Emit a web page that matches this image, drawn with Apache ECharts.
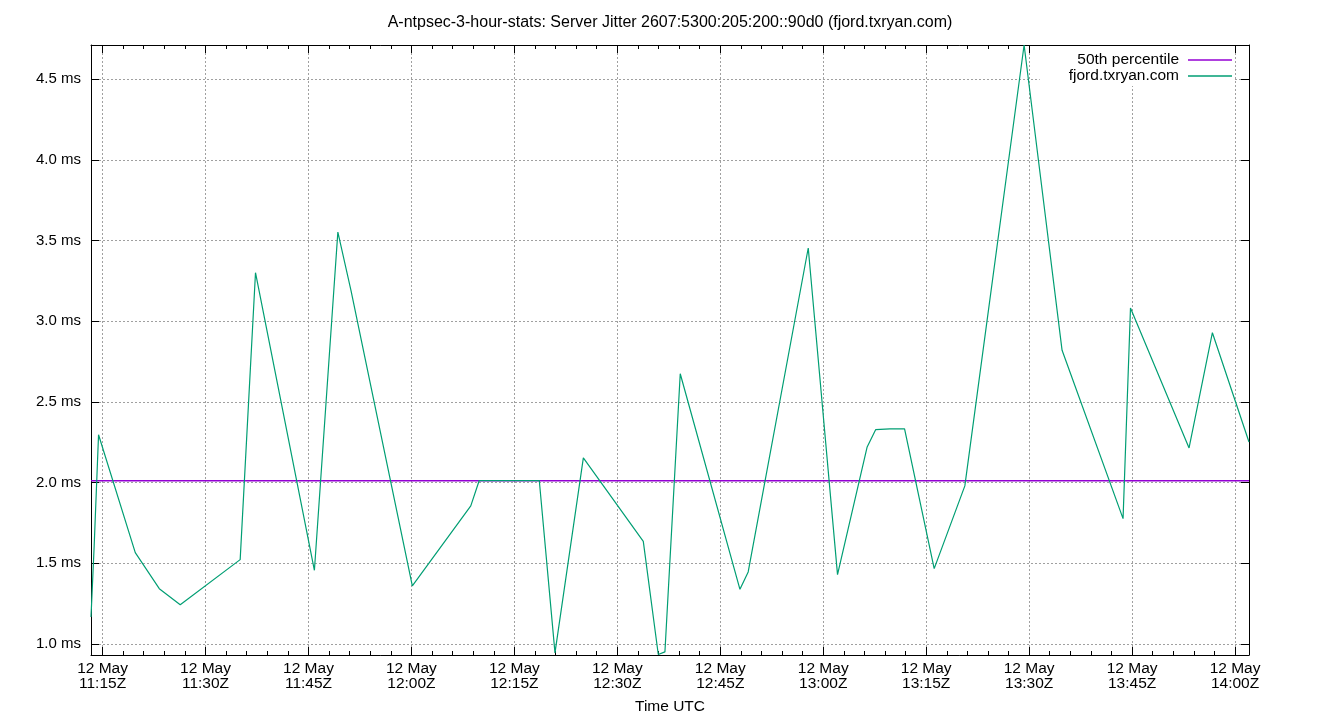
<!DOCTYPE html>
<html>
<head>
<meta charset="utf-8">
<script src="https://cdn.jsdelivr.net/npm/echarts@6/dist/echarts.min.js"></script>
<style>
  html, body { margin: 0; padding: 0; background: #fff; }
  #chart { width: 1340px; height: 720px; }
</style>
</head>
<body>
<div id="chart"></div>
<script>
// sample times (UTC, 12 May) and jitter in ms
var times = ['11:13:19', '11:13:47', '11:14:25', '11:19:46', '11:23:16', '11:26:19', '11:35:03',
    '11:37:17', '11:45:52', '11:49:17', '11:51:12', '12:00:08', '12:08:39', '12:09:52',
    '12:18:38', '12:20:55', '12:25:03', '12:33:47', '12:35:58', '12:36:56', '12:39:10',
    '12:47:52', '12:49:04', '12:57:49', '13:02:05', '13:06:24', '13:07:38', '13:09:43',
    '13:11:51', '13:16:10', '13:20:38', '13:29:16', '13:34:48', '13:43:41', '13:44:46',
    '13:53:18', '13:56:42', '14:02:02'];
var jitter = [1.168, 1.612, 2.297, 1.566, 1.343, 1.244, 1.523,
    3.301, 1.457, 3.553, 3.19, 1.360, 1.856, 2.012,
    2.012, 0.945, 2.153, 1.636, 0.935, 0.951, 2.675,
    1.339, 1.447, 3.454, 1.430, 2.221, 2.328, 2.333,
    2.333, 1.467, 1.980, 4.712, 2.820, 1.777, 3.082,
    2.215, 2.929, 2.252];
var median = 2.012;
var dayLabel = '12 May';

var FONT = 'Liberation Sans';

// "HH:MM:SS" -> minutes of the day
function toMin(s) {
    var p = s.split(':');
    return +p[0] * 60 + +p[1] + (+p[2] || 0) / 60;
}
function pad(n) { return (n < 10 ? '0' : '') + n; }

var xs = times.map(toMin);
var xMin = xs[0], xMax = xs[xs.length - 1];
var yMin = Math.min.apply(null, jitter), yMax = Math.max.apply(null, jitter);

var jitterData = [];
for (var i = 0; i < xs.length; i++) {
    jitterData.push([xs[i], jitter[i]]);
}
var medianData = [[xMin, median], [xMax, median]];

var chart = echarts.init(document.getElementById('chart'));

var black = '#000';
var gridLine = { show: true, lineStyle: { color: '#a0a0a0', type: [2, 2], width: 1 } };

function xAxisDef(pos, step, tickLen, withLabels) {
    return {
        type: 'value',
        gridIndex: 0,
        position: pos,
        min: xMin,
        max: xMax,
        minInterval: step,
        maxInterval: step,
        axisLine: { show: step === 15, lineStyle: { color: black, width: 1 } },
        axisTick: { show: true, inside: true, length: tickLen, lineStyle: { color: black } },
        splitLine: withLabels ? gridLine : { show: false },
        axisLabel: withLabels ? {
            show: true,
            showMinLabel: false,
            showMaxLabel: false,
            margin: 6,
            color: '#000',
            fontFamily: FONT,
            fontSize: 15.5,
            lineHeight: 15,
            formatter: function (v) {
                var m = Math.round(v);
                return dayLabel + '\n' + pad(Math.floor(m / 60)) + ':' + pad(m % 60) + 'Z';
            }
        } : { show: false },
        name: withLabels ? 'Time UTC' : '',
        nameLocation: 'middle',
        nameGap: 44,
        nameTextStyle: { color: '#000', fontFamily: FONT, fontSize: 15.5 }
    };
}

function yAxisDef(pos, withLabels) {
    return {
        type: 'value',
        gridIndex: 0,
        position: pos,
        min: yMin - 0.003,
        max: yMax,
        minInterval: 0.5,
        maxInterval: 0.5,
        axisLine: { show: true, lineStyle: { color: black, width: 1 } },
        axisTick: { show: true, inside: true, length: 8, lineStyle: { color: black } },
        splitLine: withLabels ? gridLine : { show: false },
        axisLabel: withLabels ? {
            show: true,
            showMinLabel: false,
            showMaxLabel: false,
            margin: 10,
            color: '#000',
            fontFamily: FONT,
            fontSize: 15,
            formatter: function (v) { return v.toFixed(1) + ' ms'; }
        } : { show: false }
    };
}

var option = {
    animation: false,
    backgroundColor: '#fff',
    title: {
        text: 'A-ntpsec-3-hour-stats: Server Jitter 2607:5300:205:200::90d0 (fjord.txryan.com)',
        left: 'center',
        top: 10,
        textStyle: { color: '#000', fontFamily: FONT, fontSize: 16, fontWeight: 'normal' }
    },
    legend: {
        orient: 'vertical',
        right: 107,
        top: 46,
        align: 'right',
        padding: [6, 1, 2, 29],
        backgroundColor: '#fff',
        itemGap: 0,
        itemWidth: 44,
        itemHeight: 1.5,
        icon: 'rect',
        textStyle: { color: '#000', fontFamily: FONT, fontSize: 15.5, lineHeight: 15, padding: [0, 4, 0, 0] },
        data: ['50th percentile', 'fjord.txryan.com']
    },
    grid: { left: 91, right: 91, top: 45, bottom: 63, containLabel: false },
    xAxis: [
        xAxisDef('bottom', 15, 8, true),
        xAxisDef('bottom', 3, 4, false),
        xAxisDef('top', 15, 8, false),
        xAxisDef('top', 3, 4, false)
    ],
    yAxis: [
        yAxisDef('left', true),
        yAxisDef('right', false)
    ],
    series: [
        {
            name: '50th percentile',
            type: 'line',
            data: medianData,
            showSymbol: false,
            symbol: 'none',
            color: '#9400d3',
            lineStyle: { width: 1.4, color: '#9400d3' }
        },
        {
            name: 'fjord.txryan.com',
            type: 'line',
            data: jitterData,
            showSymbol: false,
            symbol: 'none',
            color: '#009e73',
            lineStyle: { width: 1.2, color: '#009e73' }
        }
    ]
};

chart.setOption(option);
</script>
</body>
</html>
